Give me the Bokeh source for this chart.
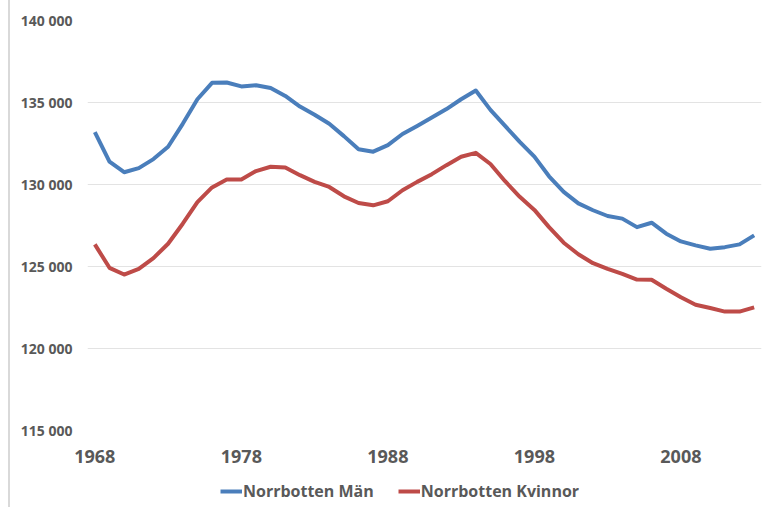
from bokeh.plotting import figure
from bokeh.models import FixedTicker, Range1d, Legend, LegendItem, CustomJSTickFormatter
from bokeh.layouts import column
from bokeh.embed import file_html
from bokeh.resources import INLINE

years = list(range(1968, 2014))
man = [133200, 131400, 130750, 131000, 131550, 132300, 133700, 135200, 136200, 136220,
       135980, 136050, 135880, 135400, 134750, 134250, 133700, 132950, 132150, 132000,
       132400, 133080, 133570, 134080, 134600, 135200, 135730, 134550, 133570, 132600,
       131700, 130500, 129550, 128850, 128430, 128080, 127920, 127400, 127670, 127000,
       126530, 126290, 126080, 126180, 126350, 126900]
kvinnor = [126350, 124920, 124510, 124860, 125510, 126390, 127610, 128930, 129820, 130300,
           130310, 130820, 131080, 131040, 130570, 130160, 129850, 129280, 128870, 128730,
           128980, 129650, 130160, 130630, 131180, 131690, 131930, 131250, 130200, 129250,
           128450, 127400, 126450, 125750, 125200, 124850, 124550, 124200, 124190, 123640,
           123120, 122670, 122470, 122250, 122250, 122510]
x_ticks = [1968, 1978, 1988, 1998, 2008]
y_ticks = [115000, 120000, 125000, 130000, 135000, 140000]
series_names = ["Norrbotten Män", "Norrbotten Kvinnor"]
colors = ["#4a7ebb", "#be4b48"]

TEXT = "#595959"
FONT = "Open Sans"
EDGE = {"border-left": "2px solid #d9d9d9", "margin-left": "8px"}

p = figure(width=761, height=475, output_backend="svg", toolbar_location=None,
           x_range=Range1d(1967.5, 2013.5), y_range=Range1d(115000, 140000),
           min_border_left=77, min_border_right=10, min_border_top=20, min_border_bottom=45)
p.styles = EDGE
p.outline_line_color = None
p.background_fill_color = "white"
p.border_fill_color = "white"

p.xgrid.grid_line_color = None
p.ygrid.grid_line_color = "#e3e3e3"
p.ygrid.grid_line_width = 1

p.xaxis.ticker = FixedTicker(ticks=x_ticks)
p.yaxis.ticker = FixedTicker(ticks=y_ticks)
p.yaxis.formatter = CustomJSTickFormatter(code="""
const s = Math.round(tick).toString();
return s.replace(/\\B(?=(\\d{3})+(?!\\d))/g, ' ');
""")
for ax in (p.xaxis[0], p.yaxis[0]):
    ax.axis_line_color = None
    ax.major_tick_line_color = None
    ax.minor_tick_line_color = None
    ax.major_tick_out = 0
    ax.major_tick_in = 0
    ax.minor_tick_out = 0
    ax.major_label_text_color = TEXT
    ax.major_label_text_font = FONT
    ax.major_label_text_font_style = "bold"
p.yaxis.major_label_text_font_size = "14px"
p.yaxis.major_label_standoff = 15
p.xaxis.major_label_text_font_size = "18px"
p.xaxis.major_label_standoff = 19

p.line(years, man, line_color=colors[0], line_width=4, line_join="round")
p.line(years, kvinnor, line_color=colors[1], line_width=4, line_join="round")

# legend strip below the chart
pl = figure(width=761, height=32, output_backend="svg", toolbar_location=None,
            x_range=Range1d(0, 1), y_range=Range1d(0, 1),
            min_border_left=0, min_border_right=0, min_border_top=0, min_border_bottom=0)
pl.styles = EDGE
pl.axis.visible = False
pl.grid.grid_line_color = None
pl.outline_line_color = None
pl.border_fill_color = "white"
lr1 = pl.line([0.4, 0.6], [-5, -5], line_color=colors[0], line_width=4)
lr2 = pl.line([0.4, 0.6], [-5, -5], line_color=colors[1], line_width=4)
legend = Legend(items=[LegendItem(label=series_names[0], renderers=[lr1]),
                       LegendItem(label=series_names[1], renderers=[lr2])],
                orientation="horizontal", location=(133, 5),
                padding=0, margin=0, spacing=24, label_standoff=1,
                glyph_width=22, glyph_height=20, label_height=20,
                label_text_font=FONT, label_text_font_size="16px",
                label_text_font_style="bold", label_text_color=TEXT,
                background_fill_alpha=0, border_line_color=None)
pl.add_layout(legend, "center")

layout = column(p, pl, spacing=0)
open("out.html", "w").write(file_html(layout, INLINE))
